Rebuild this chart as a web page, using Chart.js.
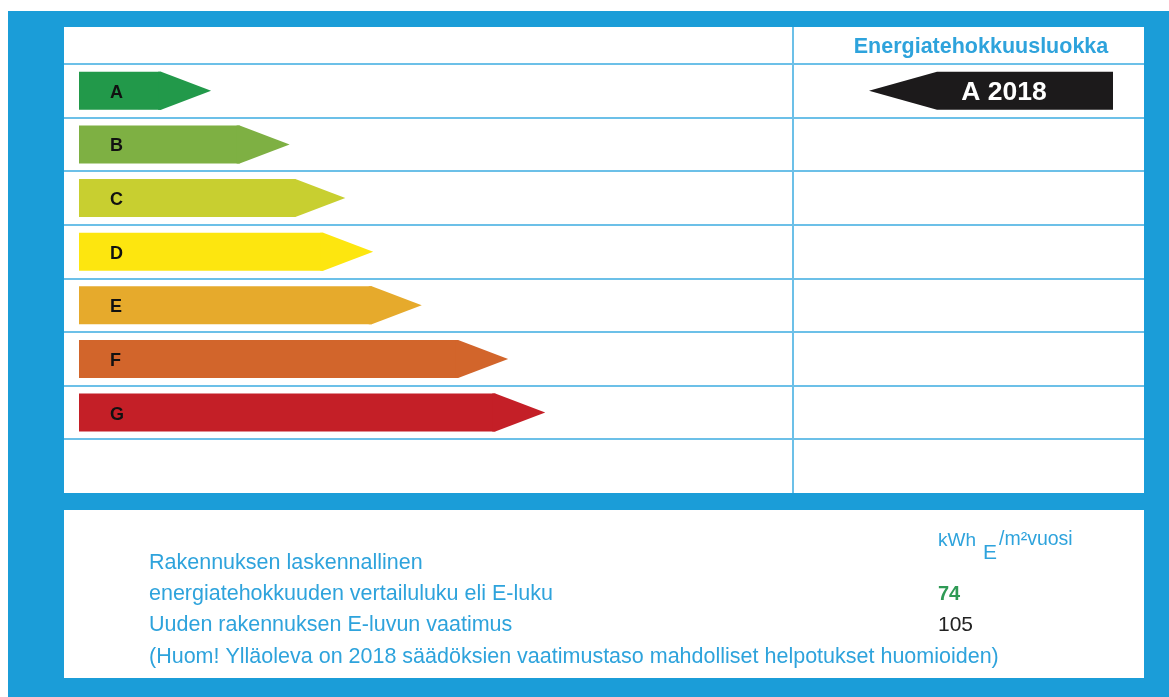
<!DOCTYPE html>
<html>
<head>
<meta charset="utf-8">
<script src="https://cdn.jsdelivr.net/npm/chart.js@4.4.1/dist/chart.umd.min.js"></script>
<style>
  html, body { margin: 0; padding: 0; background: #fff; }
  canvas { display: block; }
</style>
</head>
<body>
<canvas id="label" width="1169" height="697"></canvas>
<script>
// energy classes, arrow lengths (body end) and colours
const classes = ['A', 'B', 'C', 'D', 'E', 'F', 'G', ''];
const arrowLengths = [11.5, 22.5, 30.3, 34.2, 41.0, 53.1, 58.3, null];
const classColors = ['#22994a', '#7eb043', '#c8cf30', '#fde60f', '#e6aa2c', '#d2652b', '#c41f27', '#ffffff'];
const tipLength = 7.0;

const currentClass = 'A';
const currentLabel = 'A 2018';
const eLuku = 74;
const requirement = 105;

const BLUE = '#1b9dd8';
const LINE = '#6cc0e8';
const TEXT_BLUE = '#2ea3dc';
const FONT = '"Liberation Sans", Arial, sans-serif';

const panelTop = { x: 64, y: 27, w: 1080, h: 466 };
const panelBottom = { x: 64, y: 510, w: 1080, h: 168 };
const divider = 793;

const labelPlugin = {
    id: 'labelPlugin',
    beforeDraw(chart) {
        const ctx = chart.ctx;
        const yScale = chart.scales.y;
        ctx.save();
        ctx.fillStyle = '#fff';
        ctx.fillRect(0, 0, chart.width, chart.height);
        ctx.fillStyle = BLUE;
        ctx.fillRect(8, 11, chart.width - 8, chart.height - 11);
        ctx.fillStyle = '#fff';
        ctx.fillRect(panelTop.x, panelTop.y, panelTop.w, panelTop.h);
        ctx.fillRect(panelBottom.x, panelBottom.y, panelBottom.w, panelBottom.h);

        // row lines
        ctx.strokeStyle = LINE;
        ctx.lineWidth = 2;
        const half = (yScale.getPixelForValue(1) - yScale.getPixelForValue(0)) / 2;
        for (let i = 0; i < classes.length; i++) {
            const y = Math.round(yScale.getPixelForValue(i) - half);
            ctx.beginPath();
            ctx.moveTo(panelTop.x, y);
            ctx.lineTo(panelTop.x + panelTop.w, y);
            ctx.stroke();
        }
        ctx.beginPath();
        ctx.moveTo(divider, panelTop.y);
        ctx.lineTo(divider, panelTop.y + panelTop.h);
        ctx.stroke();

        // header
        ctx.fillStyle = TEXT_BLUE;
        ctx.font = 'bold 21.5px ' + FONT;
        ctx.textAlign = 'center';
        ctx.textBaseline = 'middle';
        ctx.fillText('Energiatehokkuusluokka', 981, 47);
        ctx.restore();
    },
    afterDatasetsDraw(chart) {
        const ctx = chart.ctx;
        const xScale = chart.scales.x;
        const yScale = chart.scales.y;
        const tipPx = xScale.getPixelForValue(tipLength) - xScale.getPixelForValue(0);
        const meta = chart.getDatasetMeta(0);
        ctx.save();
        meta.data.forEach((bar, i) => {
            if (arrowLengths[i] == null) return;
            const top = bar.y - bar.height / 2;
            const bottom = bar.y + bar.height / 2;
            // arrow head, overlapping the bar end a little so no seam shows
            ctx.fillStyle = classColors[i];
            ctx.beginPath();
            ctx.moveTo(bar.x - 3, top);
            ctx.lineTo(bar.x, top);
            ctx.lineTo(bar.x + tipPx, bar.y);
            ctx.lineTo(bar.x, bottom);
            ctx.lineTo(bar.x - 3, bottom);
            ctx.closePath();
            ctx.fill();
            ctx.fillStyle = '#111';
            ctx.font = 'bold 18px ' + FONT;
            ctx.textAlign = 'left';
            ctx.textBaseline = 'middle';
            ctx.fillText(classes[i], 110, bar.y + 2);
        });

        // current class marker in the right column
        const idx = classes.indexOf(currentClass);
        const cy = yScale.getPixelForValue(idx);
        const h = meta.data[idx].height;
        ctx.fillStyle = '#1c1a1b';
        ctx.beginPath();
        ctx.moveTo(1113, cy - h / 2);
        ctx.lineTo(937, cy - h / 2);
        ctx.lineTo(869, cy);
        ctx.lineTo(937, cy + h / 2);
        ctx.lineTo(1113, cy + h / 2);
        ctx.closePath();
        ctx.fill();
        ctx.fillStyle = '#fff';
        ctx.font = 'bold 26.5px ' + FONT;
        ctx.textAlign = 'center';
        ctx.textBaseline = 'middle';
        ctx.fillText(currentLabel, 1004, cy + 2);

        // lower panel
        ctx.textAlign = 'left';
        ctx.fillStyle = TEXT_BLUE;
        ctx.font = '21.5px ' + FONT;
        ctx.fillText('Rakennuksen laskennallinen', 149, 563);
        ctx.fillText('energiatehokkuuden vertailuluku eli E-luku', 149, 594);
        ctx.fillText('Uuden rakennuksen E-luvun vaatimus', 149, 625);
        ctx.fillText('(Huom! Ylläoleva on 2018 säädöksien vaatimustaso mahdolliset helpotukset huomioiden)', 149, 657);
        ctx.font = '19px ' + FONT;
        ctx.fillText('kWh', 938, 541);
        ctx.font = '21px ' + FONT;
        ctx.fillText('E', 983, 553);
        ctx.font = '19.5px ' + FONT;
        ctx.fillText('/m²vuosi', 999, 540);
        ctx.fillStyle = '#2f9a55';
        ctx.font = 'bold 20px ' + FONT;
        ctx.fillText(String(eLuku), 938, 594);
        ctx.fillStyle = '#222';
        ctx.font = '21px ' + FONT;
        ctx.fillText(String(requirement), 938, 625);
        ctx.restore();
    }
};

new Chart(document.getElementById('label'), {
    type: 'bar',
    data: {
        labels: classes,
        datasets: [{
            data: arrowLengths,
            backgroundColor: classColors,
            borderWidth: 0,
            barPercentage: 0.71,
            categoryPercentage: 1
        }]
    },
    options: {
        indexAxis: 'y',
        responsive: false,
        animation: false,
        devicePixelRatio: 1,
        layout: {
            padding: { left: 79, right: 1169 - divider, top: 64, bottom: 697 - 493 }
        },
        scales: {
            x: { display: false, min: 0, max: 100 },
            y: { display: false }
        },
        plugins: {
            legend: { display: false },
            tooltip: { enabled: false }
        }
    },
    plugins: [labelPlugin]
});
</script>
</body>
</html>
